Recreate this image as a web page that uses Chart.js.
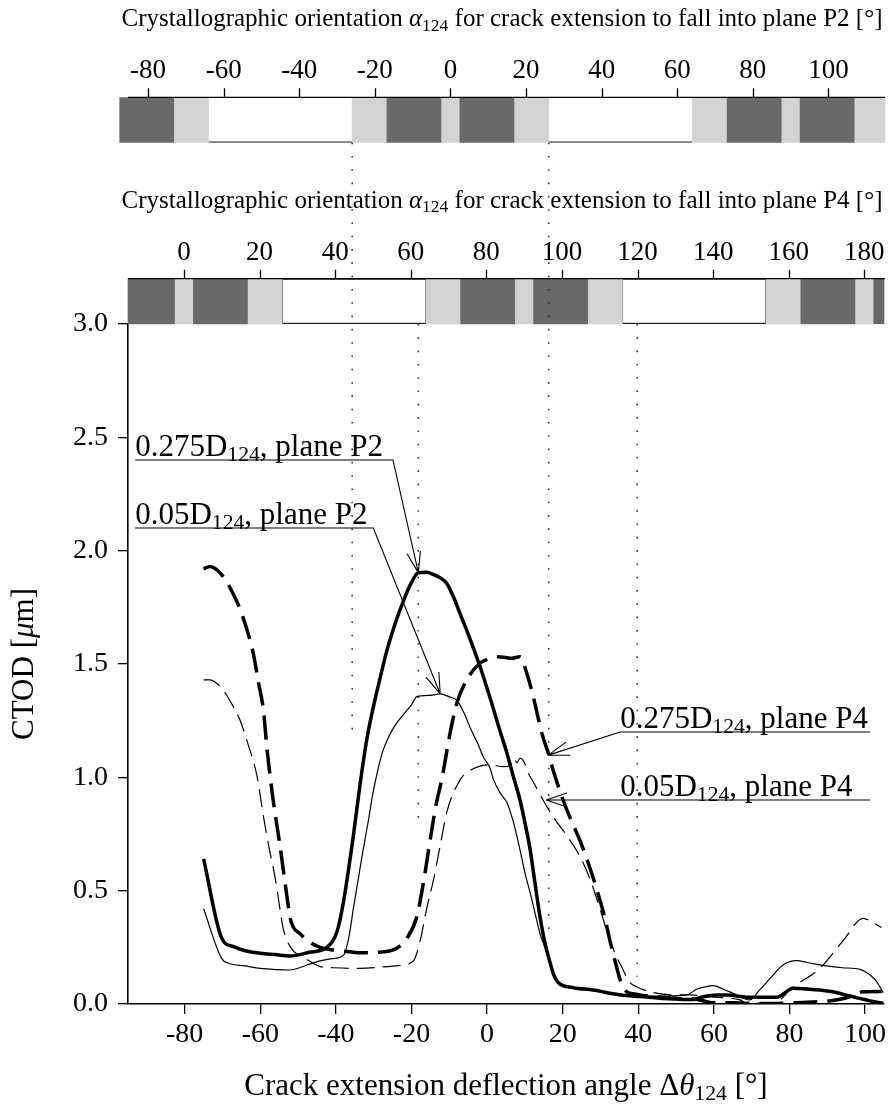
<!DOCTYPE html>
<html>
<head>
<meta charset="utf-8">
<script src="https://cdn.jsdelivr.net/npm/chart.js@4.4.1/dist/chart.umd.min.js"></script>
<style>
  html, body { margin: 0; padding: 0; background: #fff; }
  #wrap { width: 891px; height: 1109px; }
</style>
</head>
<body>
<div id="wrap"><canvas id="ctod" width="891" height="1109"></canvas></div>
<script>
// ===== values =====
// 0.275 D124, plane P2 (thick solid)
const angle275P2 = [-75, -70.2, -67.1, -64, -60, -56, -52.1, -47, -42.4, -39.7, -38, -35.4, -33.6, -31.8, -30.1, -28, -26.5, -24.3, -22.1, -20,
  -18.2, -16, -14.2, -12.4, -10.7, -9, -7.1, -4.5, -1.9, 0.8, 3.5, 5.2, 7, 8.7, 10, 11.4, 12.7, 14, 15.3, 16.7,
  17.6, 18.8, 22.8, 28.1, 31.7, 36.9, 40.5, 45.7, 50, 54.5, 57.2, 60.8, 63.4, 68.7, 72, 76.6, 81, 84.6, 88, 91.5,
  96, 98.6, 101, 104.8];
const ctod275P2 = [0.64, 0.29, 0.253, 0.235, 0.224, 0.218, 0.212, 0.228, 0.25, 0.32, 0.45, 0.74, 0.97, 1.17, 1.31, 1.46, 1.56, 1.68, 1.78, 1.86,
  1.903, 1.905, 1.895, 1.88, 1.856, 1.80, 1.72, 1.61, 1.49, 1.35, 1.20, 1.11, 1.0, 0.90, 0.80, 0.68, 0.53, 0.385, 0.27, 0.18,
  0.13, 0.095, 0.072, 0.062, 0.05, 0.037, 0.033, 0.025, 0.022, 0.02, 0.032, 0.04, 0.04, 0.03, 0.03, 0.03, 0.069, 0.066, 0.062, 0.054,
  0.035, 0.025, 0.015, 0.003];

// 0.05 D124, plane P2 (thin solid)
const angle05P2 = [-75, -70.2, -68.4, -64, -60, -56, -52.1, -48, -44.2, -41, -38, -36.5, -35.4, -34, -32.8, -31.5, -30.2, -28.8, -27.5, -26,
  -24.3, -22, -20, -18.6, -15, -12.4, -10, -8, -6, -4.5, -2.5, -1, 0.8, 1.7, 3.5, 5.2, 7, 8.7, 10, 11.4, 12.7,
  14, 15.3, 16.7, 18.8, 22.8, 28, 32, 37, 42, 47, 52.8, 55.4, 57.5, 59.8, 62.5, 65.1, 69.5, 72, 75, 78.3,
  81.9, 85, 89.8, 94, 98.6, 101.3, 103, 104.8];
const ctod05P2 = [0.42, 0.20, 0.18, 0.168, 0.157, 0.152, 0.15, 0.17, 0.19, 0.2, 0.215, 0.3, 0.42, 0.56, 0.68, 0.8, 0.93, 1.04, 1.12, 1.18,
  1.23, 1.28, 1.32, 1.356, 1.362, 1.368, 1.355, 1.34, 1.28, 1.22, 1.15, 1.09, 1.04, 0.99, 0.93, 0.89, 0.80, 0.68, 0.58, 0.49, 0.40,
  0.31, 0.25, 0.18, 0.09, 0.07, 0.06, 0.05, 0.04, 0.035, 0.035, 0.04, 0.065, 0.075, 0.081, 0.065, 0.047, 0.018, 0.06, 0.115, 0.172,
  0.191, 0.182, 0.168, 0.16, 0.153, 0.128, 0.10, 0.05];

// 0.275 D124, plane P4 (thick dashed)
const angle275P4 = [-75, -73.3, -71.5, -69.8, -67.5, -65.3, -63.5, -61.9, -60.5, -59.2, -58.2, -56.6, -54.8, -53, -52.1, -51.3, -49.5, -47.6, -44.2, -40.6,
  -36.2, -33.6, -27.5, -23.9, -21.2, -18.6, -16.9, -15.1, -13.5, -12, -9.8, -8, -5.4, -1.9, 0, 2.6, 4.5, 6.5, 8.7, 10.5,
  12.2, 14.5, 16.2, 17.5, 20.1, 22.5, 24.6, 27, 29.1, 31, 32.5, 34, 35.2, 36.9, 38.6, 41, 45.7, 50, 56.3, 59.4,
  65, 68.7, 75.7, 84.6, 89.8, 93, 96, 99.5, 104.4];
const ctod275P4 = [1.92, 1.93, 1.915, 1.885, 1.82, 1.74, 1.65, 1.55, 1.42, 1.30, 1.12, 0.90, 0.70, 0.48, 0.38, 0.34, 0.31, 0.28, 0.25, 0.238,
  0.23, 0.226, 0.23, 0.246, 0.29, 0.385, 0.53, 0.72, 0.88, 0.99, 1.194, 1.327, 1.43, 1.503, 1.52, 1.532, 1.53, 1.525, 1.532, 1.459,
  1.356, 1.194, 1.106, 1.03, 0.90, 0.80, 0.72, 0.61, 0.50, 0.39, 0.28, 0.18, 0.106, 0.054, 0.045, 0.038, 0.03, 0.025, 0.018, 0.006,
  0.005, 0.003, 0.002, 0.008, 0.012, 0.02, 0.032, 0.054, 0.055];

// 0.05 D124, plane P4 (thin dashed)
const angle05P4 = [-75, -73.3, -70.6, -68.8, -67.1, -65.3, -63.5, -60.8, -59.2, -57.8, -56, -53.9, -52.1, -49.4, -47.6, -44.2, -40.7, -33.6, -26.5, -23,
  -19.5, -17.7, -16, -14.2, -12.4, -10.6, -7.1, -5.4, -2.3, 0.8, 4.3, 6, 7, 7.9, 8.7, 10, 10.5, 12.2, 14.8, 17.5,
  21.2, 24.6, 27, 29.1, 32.5, 34.5, 36, 37.5, 39.7, 43.1, 49.2, 53.7, 60, 66.9, 68.7, 75.7, 81, 88, 94.2, 99.5,
  102, 104.3];
const ctod05P4 = [1.43, 1.43, 1.40, 1.36, 1.31, 1.25, 1.16, 1.00, 0.83, 0.70, 0.55, 0.33, 0.253, 0.209, 0.195, 0.165, 0.16, 0.157, 0.165, 0.17,
  0.19, 0.28, 0.42, 0.547, 0.70, 0.85, 0.99, 1.02, 1.047, 1.055, 1.047, 1.05, 1.084, 1.065, 1.085, 1.06, 1.032, 0.98, 0.90, 0.825,
  0.74, 0.65, 0.56, 0.46, 0.28, 0.20, 0.15, 0.10, 0.075, 0.054, 0.04, 0.04, 0.03, 0.018, 0.003, 0.003, 0.076, 0.157, 0.28, 0.378,
  0.36, 0.338];

// tick labels
const xTicks = [-80, -60, -40, -20, 0, 20, 40, 60, 80, 100];
const yTicks = [0, 0.5, 1.0, 1.5, 2.0, 2.5, 3.0];
const p2Ticks = [-80, -60, -40, -20, 0, 20, 40, 60, 80, 100];
const p4Ticks = [0, 20, 40, 60, 80, 100, 120, 140, 160, 180];

// orientation alpha124 = deflection angle + offset
const OFFSET_P2 = 9.7;
const OFFSET_P4 = 80.2;

// orientation bands, [from, to] in alpha124
const p2Dark  = [[-87.5, -73.2], [-16.8, -2.5], [2.5, 16.8], [73.2, 87.5], [92.5, 106.8]];
const p2Light = [[-73.2, -64], [-26, -16.8], [-2.5, 2.5], [16.8, 26], [64, 73.2], [87.5, 92.5], [106.8, 115]];
const p2Open  = [[-64, -26], [26, 64]];
const p4Dark  = [[-14.8, -2.5], [2.5, 16.8], [73.2, 87.5], [92.5, 106.8], [163.2, 177.5], [182.5, 185.2]];
const p4Light = [[-2.5, 2.5], [16.8, 26], [64, 73.2], [87.5, 92.5], [106.8, 116], [154, 163.2], [177.5, 182.5]];
const p4Open  = [[26, 64], [116, 154]];

// dotted guides (deflection angle, CTOD top, CTOD bottom)
const guideAngles = [-35.7, -18.2, 16.3, 39.7];
const guideTop    = [3.8, 3.0, 3.8, 3.0];
const guideBottom = [1.2, 0.77, 0.3, 0.12];

// ===== layout / style =====
const X_MIN = -95, X_MAX = 105;
const BAND_P2_Y = 3.9, BAND_P4_Y = 3.1, BAND_HALF = 0.1;
const SERIF = '"Liberation Serif", "Times New Roman", serif';

const notes = [
  { d: '0.275', plane: 'P2', textX: -93.1, lineY: 2.4, line: [-93.1, -24.9], hook: 1, tip: [-18.2, 1.903] },
  { d: '0.05',  plane: 'P2', textX: -93.1, lineY: 2.1, line: [-93.1, -30.1], hook: 1, tip: [-12.4, 1.368] },
  { d: '0.275', plane: 'P4', textX: 35.2,  lineY: 1.2, line: [35.2, 101.3],  hook: 0, tip: [16.2, 1.098] },
  { d: '0.05',  plane: 'P4', textX: 35.2,  lineY: 0.9, line: [33.8, 101.3],  hook: 0, tip: [15.6, 0.9] },
];

const zip = (xs, ys) => xs.map((x, i) => ({ x, y: ys[i] }));

function curve(label, xs, ys, width, dash) {
  return {
    label, data: zip(xs, ys), borderColor: '#000', borderWidth: width, borderDash: dash,
    pointRadius: 0, cubicInterpolationMode: 'monotone', fill: false, order: 1
  };
}

function band(label, segs, axisID, yMid, fill, border) {
  return {
    type: 'bar', label, indexAxis: 'y', xAxisID: axisID, yAxisID: 'y',
    data: segs.map(s => ({ x: s, y: yMid })),
    backgroundColor: fill, borderColor: '#222', borderWidth: border, borderSkipped: false,
    barThickness: 45, grouped: false, clip: false, order: 10
  };
}

const guides = guideAngles.map((a, i) => ({
  label: 'guide' + i,
  data: [{ x: a, y: guideTop[i] }, { x: a, y: guideBottom[i] }],
  borderColor: '#333', borderWidth: 1.6, borderDash: [1.6, 11.7], pointRadius: 0, clip: false, order: 5
}));

// ----- rich text (subscripts, italics) -----
function fontStr(size, italic) { return (italic ? 'italic ' : '') + size + 'px ' + SERIF; }
function richWidth(ctx, parts, size) {
  let w = 0;
  for (const [t, s] of parts) {
    ctx.font = fontStr(s === 'sub' ? size * 0.7 : size, s === 'it');
    w += ctx.measureText(t).width;
  }
  return w;
}
function drawRich(ctx, parts, x, y, size, align) {
  let cx = x;
  if (align === 'center') cx -= richWidth(ctx, parts, size) / 2;
  ctx.textAlign = 'left';
  ctx.textBaseline = 'alphabetic';
  for (const [t, s] of parts) {
    const sub = s === 'sub';
    ctx.font = fontStr(sub ? size * 0.7 : size, s === 'it');
    ctx.fillText(t, cx, y + (sub ? size * 0.17 : 0));
    cx += ctx.measureText(t).width;
  }
}

function bandAxis(ctx, chart, scale, ticks, topY, plane) {
  const { left, right } = chart.scales.x;
  ctx.strokeStyle = '#000';
  ctx.lineWidth = 1.3;
  ctx.beginPath();
  ctx.moveTo(left, topY); ctx.lineTo(right + 1, topY);
  ticks.forEach(t => {
    const px = Math.round(scale.getPixelForValue(t)) + 0.5;
    ctx.moveTo(px, topY); ctx.lineTo(px, topY - 9);
  });
  ctx.stroke();
  ctx.fillStyle = '#000';
  ctx.font = fontStr(27, false);
  ctx.textAlign = 'center';
  ctx.textBaseline = 'alphabetic';
  ticks.forEach(t => ctx.fillText(String(t), scale.getPixelForValue(t), topY - 19));
  drawRich(ctx, [['Crystallographic orientation ', ''], ['α', 'it'], ['124', 'sub'],
    [' for crack extension to fall into plane ' + plane + ' [°]', '']],
    (left + right) / 2 - 4, topY - 71, 25, 'center');
}

const figurePlugin = {
  id: 'figureText',
  afterDatasetsDraw(chart) {
    const ctx = chart.ctx;
    const { x, y, xP2, xP4 } = chart.scales;
    ctx.save();
    bandAxis(ctx, chart, xP2, p2Ticks, y.getPixelForValue(BAND_P2_Y + BAND_HALF), 'P2');
    bandAxis(ctx, chart, xP4, p4Ticks, y.getPixelForValue(BAND_P4_Y + BAND_HALF), 'P4');

    // labelled leaders with open arrow heads
    ctx.strokeStyle = '#000';
    ctx.fillStyle = '#000';
    ctx.lineWidth = 1.1;
    notes.forEach(n => {
      const ly = y.getPixelForValue(n.lineY);
      const a = x.getPixelForValue(n.line[1 - n.hook]);
      const b = x.getPixelForValue(n.line[n.hook]);
      const tx = x.getPixelForValue(n.tip[0]), ty = y.getPixelForValue(n.tip[1]);
      ctx.beginPath();
      ctx.moveTo(a, ly); ctx.lineTo(b, ly); ctx.lineTo(tx, ty);
      const ang = Math.atan2(ty - ly, tx - b);
      [-1, 1].forEach(s => {
        const w = ang + Math.PI + s * 0.32;
        ctx.moveTo(tx, ty); ctx.lineTo(tx + 22 * Math.cos(w), ty + 22 * Math.sin(w));
      });
      ctx.stroke();
      drawRich(ctx, [[n.d + 'D', ''], ['124', 'sub'], [', plane ' + n.plane, '']],
        x.getPixelForValue(n.textX), ly - 4, 31, 'left');
    });

    // axis titles
    drawRich(ctx, [['Crack extension deflection angle Δ', ''], ['θ', 'it'], ['124', 'sub'], [' [°]', '']],
      (x.left + x.right) / 2, 1095, 31, 'center');
    ctx.translate(33, (y.top + y.bottom) / 2);
    ctx.rotate(-Math.PI / 2);
    drawRich(ctx, [['CTOD [', ''], ['μ', 'it'], ['m]', '']], 0, 0, 31, 'center');
    ctx.restore();
  }
};

const tickFont = { family: SERIF, size: 28 };

new Chart(document.getElementById('ctod'), {
  type: 'line',
  data: {
    datasets: [
      curve('0.275D124, plane P2', angle275P2, ctod275P2, 3.5, []),
      curve('0.05D124, plane P2', angle05P2, ctod05P2, 1.2, []),
      curve('0.275D124, plane P4', angle275P4, ctod275P4, 3.5, [24, 10]),
      curve('0.05D124, plane P4', angle05P4, ctod05P4, 1.2, [18, 8]),
      ...guides,
      band('P2 dark', p2Dark, 'xP2', BAND_P2_Y, '#696969', 0),
      band('P2 light', p2Light, 'xP2', BAND_P2_Y, '#d3d3d3', 0),
      band('P2 open', p2Open, 'xP2', BAND_P2_Y, '#ffffff', { top: 0, right: 0, bottom: 1.3, left: 0 }),
      band('P4 dark', p4Dark, 'xP4', BAND_P4_Y, '#696969', 0),
      band('P4 light', p4Light, 'xP4', BAND_P4_Y, '#d3d3d3', 0),
      band('P4 open', p4Open, 'xP4', BAND_P4_Y, '#ffffff', { top: 1.3, right: 1, bottom: 1.3, left: 1 }),
    ]
  },
  options: {
    responsive: false,
    animation: false,
    events: [],
    layout: { padding: { top: 324, right: 7, left: 0, bottom: 0 } },
    plugins: { legend: { display: false }, tooltip: { enabled: false } },
    scales: {
      x: {
        type: 'linear', position: 'bottom', min: X_MIN, max: X_MAX, offset: false,
        afterBuildTicks: s => { s.ticks = xTicks.map(v => ({ value: v })); },
        afterFit: s => { s.height = 105; },
        grid: { offset: false, drawOnChartArea: false, drawTicks: true, tickLength: 10, color: '#000', lineWidth: 1.3 },
        border: { display: true, color: '#000', width: 1.6 },
        ticks: { font: tickFont, color: '#000', padding: 4, maxRotation: 0 }
      },
      y: {
        type: 'linear', position: 'left', min: 0, max: 3, offset: false,
        afterBuildTicks: s => { s.ticks = yTicks.map(v => ({ value: v })); },
        afterFit: s => { s.width = 128; },
        grid: { offset: false, drawOnChartArea: false, drawTicks: true, tickLength: 10, color: '#000', lineWidth: 1.3 },
        border: { display: true, color: '#000', width: 1.6 },
        ticks: { font: tickFont, color: '#000', padding: 10, callback: v => v.toFixed(1) }
      },
      xP2: { type: 'linear', axis: 'x', position: 'top', display: false, offset: false, min: X_MIN + OFFSET_P2, max: X_MAX + OFFSET_P2 },
      xP4: { type: 'linear', axis: 'x', position: 'top', display: false, offset: false, min: X_MIN + OFFSET_P4, max: X_MAX + OFFSET_P4 }
    }
  },
  plugins: [figurePlugin]
});
</script>
</body>
</html>
